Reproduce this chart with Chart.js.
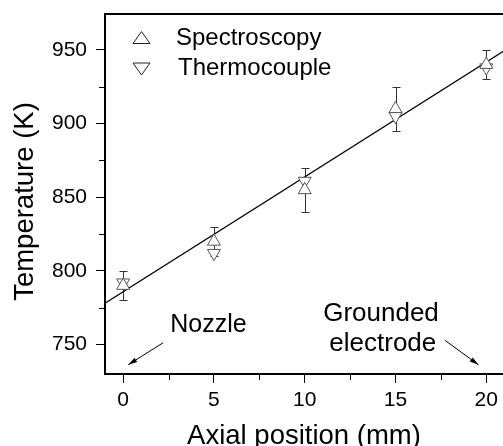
<!DOCTYPE html>
<html>
<head>
<meta charset="utf-8">
<title>Temperature vs axial position</title>
<script src="https://cdn.jsdelivr.net/npm/chart.js@4"></script>
<style>
  html, body { margin: 0; padding: 0; background: #fff; overflow: hidden; }
  canvas { display: block; }
</style>
</head>
<body>
<canvas id="chart" width="503" height="446"></canvas>
<script>
'use strict';

let canvasElem = document.getElementById('chart');

// axial position along the jet (mm)
let positions = [0, 5, 10, 15, 20];
// spectroscopic temperature and its error bar half-width (K)
let spectroTemps = [790, 820, 855, 910, 940];
let spectroErrors = [10, 10, 15, 15, 10];
// thermocouple readings (K)
let thermoTemps = [792, 812, 861, 905, 938];
// end points of the linear fit
let fitX = [-1, 21];
let fitY = [778, 949.6];

// tick values
let xMajor = [0, 5, 10, 15, 20];
let xMinor = [2.5, 7.5, 12.5, 17.5];
let yMajor = [750, 800, 850, 900, 950];
let yMinor = [775, 825, 875, 925];

const FONT = "'Liberation Sans', Arial, Helvetica, sans-serif";
const MARK = '#555';

function toPoints(xs, ys) {
  let pts = [];
  for (let i = 0; i < xs.length; i++) {
    pts.push({ x: xs[i], y: ys[i] });
  }
  return pts;
}

function tickList(major, minor) {
  return major.concat(minor).sort((a, b) => a - b).map(v => ({ value: v }));
}

function arrow(ctx, x1, y1, x2, y2) {
  let ang = Math.atan2(y2 - y1, x2 - x1);
  ctx.beginPath();
  ctx.moveTo(x1, y1);
  ctx.lineTo(x2, y2);
  ctx.stroke();
  ctx.beginPath();
  ctx.moveTo(x2, y2);
  ctx.lineTo(x2 - 9 * Math.cos(ang) + 2.5 * Math.sin(ang), y2 - 9 * Math.sin(ang) - 2.5 * Math.cos(ang));
  ctx.lineTo(x2 - 9 * Math.cos(ang) - 2.5 * Math.sin(ang), y2 - 9 * Math.sin(ang) + 2.5 * Math.cos(ang));
  ctx.closePath();
  ctx.fill();
}

function triangle(ctx, cx, cy, w, h, down) {
  ctx.beginPath();
  if (down) {
    ctx.moveTo(cx - w / 2, cy - h / 2);
    ctx.lineTo(cx + w / 2, cy - h / 2);
    ctx.lineTo(cx, cy + h / 2);
  } else {
    ctx.moveTo(cx - w / 2, cy + h / 2);
    ctx.lineTo(cx + w / 2, cy + h / 2);
    ctx.lineTo(cx, cy - h / 2);
  }
  ctx.closePath();
  ctx.stroke();
}

// error bars, frame, minor ticks, legend, titles and labels
const extras = {
  id: 'extras',
  beforeDatasetsDraw(chart) {
    const { ctx, scales: { x, y } } = chart;
    ctx.save();
    ctx.strokeStyle = '#333';
    ctx.lineWidth = 1;
    for (let i = 0; i < positions.length; i++) {
      let px = Math.round(x.getPixelForValue(positions[i])) + 0.5;
      let top = Math.round(y.getPixelForValue(spectroTemps[i] + spectroErrors[i])) + 0.5;
      let bot = Math.round(y.getPixelForValue(spectroTemps[i] - spectroErrors[i])) + 0.5;
      ctx.beginPath();
      ctx.moveTo(px, top); ctx.lineTo(px, bot);
      ctx.moveTo(px - 4, top); ctx.lineTo(px + 4, top);
      ctx.moveTo(px - 4, bot); ctx.lineTo(px + 4, bot);
      ctx.stroke();
    }
    ctx.restore();
  },
  afterDraw(chart) {
    const { ctx, chartArea: area, scales: { x, y } } = chart;
    ctx.save();

    // top edge of the frame
    ctx.strokeStyle = '#000';
    ctx.lineWidth = 2;
    ctx.beginPath();
    ctx.moveTo(area.left - 1, area.top);
    ctx.lineTo(area.right, area.top);
    ctx.stroke();

    // minor ticks
    ctx.lineWidth = 1;
    ctx.beginPath();
    xMinor.forEach(v => {
      let px = Math.round(x.getPixelForValue(v)) + 0.5;
      ctx.moveTo(px, area.bottom);
      ctx.lineTo(px, area.bottom + 6);
    });
    yMinor.forEach(v => {
      let py = Math.round(y.getPixelForValue(v)) + 0.5;
      ctx.moveTo(area.left, py);
      ctx.lineTo(area.left - 6, py);
    });
    ctx.stroke();

    // legend
    ctx.strokeStyle = '#222';
    ctx.lineWidth = 1;
    triangle(ctx, area.left + 36.5, area.top + 23.5, 17, 12, false);
    triangle(ctx, area.left + 36.5, area.top + 55, 17, 12, true);
    ctx.fillStyle = '#000';
    ctx.font = '24px ' + FONT;
    ctx.textAlign = 'left';
    ctx.textBaseline = 'alphabetic';
    ctx.fillText('Spectroscopy', area.left + 71, area.top + 31);
    ctx.fillText('Thermocouple', area.left + 73, area.top + 61);

    // notes at both ends of the gap
    ctx.font = '25px ' + FONT;
    ctx.fillText('Nozzle', x.getPixelForValue(2.59), y.getPixelForValue(758.2));
    ctx.font = '26px ' + FONT;
    ctx.textAlign = 'center';
    ctx.fillText('Grounded', x.getPixelForValue(14.2), y.getPixelForValue(766.2));
    ctx.fillText('electrode', x.getPixelForValue(14.3), y.getPixelForValue(745.3));
    ctx.strokeStyle = '#000';
    ctx.lineWidth = 1;
    arrow(ctx, x.getPixelForValue(2.2), y.getPixelForValue(751.2),
      x.getPixelForValue(0.28), y.getPixelForValue(736.3));
    arrow(ctx, x.getPixelForValue(17.73), y.getPixelForValue(752.8),
      x.getPixelForValue(19.57), y.getPixelForValue(736.3));

    // axis titles
    ctx.font = '27.5px ' + FONT;
    ctx.textAlign = 'center';
    ctx.fillText('Axial position (mm)', 304, 444);
    ctx.translate(32.5, 201.5);
    ctx.rotate(-Math.PI / 2);
    ctx.fillText('Temperature (K)', 0, 0);
    ctx.restore();
  }
};

function renderChart() {
  let chartObj = {
    type: 'scatter',
    data: {
      datasets: [
        {
          label: 'Spectroscopy',
          data: toPoints(positions, spectroTemps),
          pointStyle: 'triangle',
          pointRadius: 7.5,
          pointBorderWidth: 1,
          borderColor: MARK,
          backgroundColor: '#fff',
          order: 1
        },
        {
          label: 'Thermocouple',
          data: toPoints(positions, thermoTemps),
          pointStyle: 'triangle',
          pointRotation: 180,
          pointRadius: 7.5,
          pointBorderWidth: 1,
          borderColor: MARK,
          backgroundColor: '#fff',
          order: 2
        },
        {
          type: 'line',
          label: 'Linear fit',
          data: toPoints(fitX, fitY),
          showLine: true,
          borderColor: '#000',
          borderWidth: 1.3,
          pointRadius: 0,
          fill: false,
          order: 3
        }
      ]
    },
    options: {
      responsive: false,
      animation: false,
      devicePixelRatio: 1,
      layout: { autoPadding: false, padding: { top: 14, left: 0, right: 0, bottom: 0 } },
      plugins: {
        legend: { display: false },
        tooltip: { enabled: false }
      },
      scales: {
        x: {
          type: 'linear',
          min: -1,
          max: 20.92,
          afterBuildTicks: s => { s.ticks = tickList(xMajor, xMinor); },
          afterFit: s => {
            s.height = 72;
            s.paddingLeft = 0; s.paddingRight = 0;
          },
          ticks: {
            includeBounds: false,
            maxRotation: 0,
            autoSkip: false,
            padding: 5,
            color: '#000',
            font: { family: FONT, size: 21 },
            callback: v => (xMajor.includes(v) ? String(v) : '')
          },
          grid: {
            drawOnChartArea: false,
            tickLength: 9,
            tickWidth: 1,
            tickColor: c => (c.tick && xMajor.includes(c.tick.value) ? '#000' : 'rgba(0,0,0,0)')
          },
          border: { display: true, color: '#000', width: 2 }
        },
        y: {
          type: 'linear',
          min: 730,
          max: 974.4,
          afterBuildTicks: s => { s.ticks = tickList(yMajor, yMinor); },
          afterFit: s => {
            s.width = 105;
            s.paddingTop = 0; s.paddingBottom = 0;
          },
          ticks: {
            includeBounds: false,
            autoSkip: false,
            padding: 9,
            color: '#000',
            font: { family: FONT, size: 21 },
            callback: v => (yMajor.includes(v) ? String(v) : '')
          },
          grid: {
            drawOnChartArea: false,
            tickLength: 9,
            tickWidth: 1,
            tickColor: c => (c.tick && yMajor.includes(c.tick.value) ? '#000' : 'rgba(0,0,0,0)')
          },
          border: { display: true, color: '#000', width: 2 }
        }
      }
    },
    plugins: [extras]
  };

  new Chart(canvasElem, chartObj);
}

renderChart();
</script>
</body>
</html>
